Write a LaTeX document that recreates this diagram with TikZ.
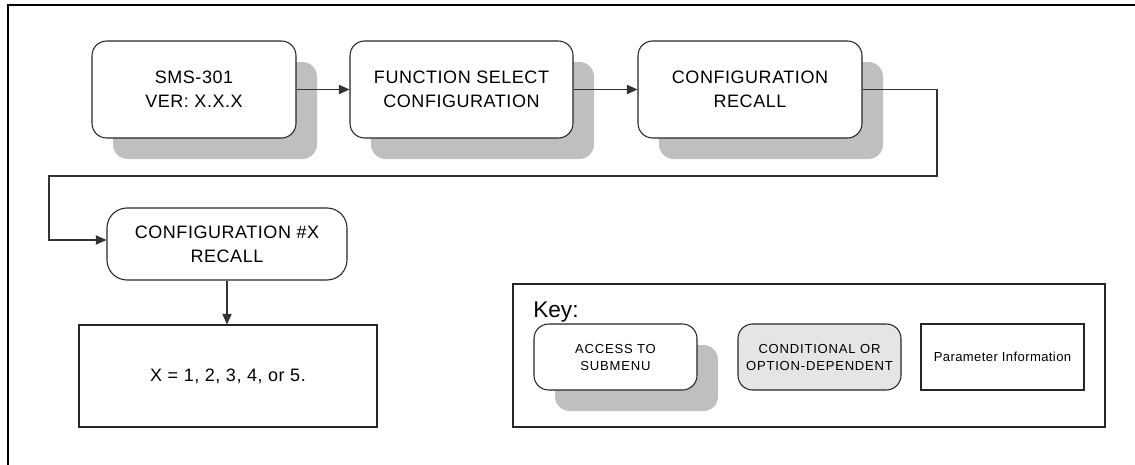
\documentclass[tikz,border=0pt]{standalone}
\usepackage{fontspec}
\setmainfont{Liberation Sans}
\newfontfamily\spacedfont[LetterSpace=3]{Liberation Sans}
\newfontfamily\widefont[LetterSpace=6]{Liberation Sans}
\usetikzlibrary{arrows.meta}
\begin{document}
\begin{tikzpicture}[x=0.75pt,y=-0.75pt,
  box/.style={draw=black!85, line width=0.8pt, fill=white, rounded corners=11pt, align=center, inner sep=0pt, font=\spacedfont\fontsize{13.5}{18}\selectfont},
  shadowbox/.style={fill=black!25, draw=none, rounded corners=11pt, inner sep=0pt},
  keybox/.style={draw=black!85, line width=0.8pt, fill=white, rounded corners=11pt, align=center, inner sep=0pt, font=\widefont\fontsize{9.8}{12.75}\selectfont, minimum width=122.25pt, minimum height=49.5pt},
  conn/.style={draw=black!80, line width=0.8pt},
  arr/.style={conn, -{Triangle[length=8pt,width=7pt]}},
]
\useasboundingbox (0,0) rectangle (1135,464);
\draw[line width=2pt] (8,465) -- (8,5) -- (1136,5);

% shadows
\node[shadowbox, minimum width=153pt, minimum height=72.75pt] (b1s) at (215,110.5) {};
\node[shadowbox, minimum width=167.25pt, minimum height=72.75pt] (b2s) at (482.5,110.5) {};
\node[shadowbox, minimum width=168pt, minimum height=72.75pt] (b3s) at (771,110.5) {};

% main boxes
\node[box, minimum width=153pt, minimum height=72.75pt] (b1) at (194,89.5) {SMS-301\\VER: X.X.X};
\node[box, minimum width=167.25pt, minimum height=72.75pt] (b2) at (461.5,89.5) {FUNCTION SELECT\\CONFIGURATION};
\node[box, minimum width=168pt, minimum height=72.75pt] (b3) at (750,89.5) {CONFIGURATION\\RECALL};
\node[box, rounded corners=15pt, minimum width=180pt, minimum height=54pt] (b4) at (227,244) {CONFIGURATION \#X\\RECALL};
\node[box, rounded corners=0pt, minimum width=223.5pt, minimum height=76.5pt] (b5) at (228,376) {X = 1, 2, 3, 4, or 5.};

% connectors
\draw[arr] (b1.east) -- (b2.west);
\draw[arr] (b2.east) -- (b3.west);
\coordinate (c1) at (937,89.5);
\coordinate (c2) at (937,176);
\coordinate (c3) at (49,176);
\coordinate (c4) at (49,240);
\draw[arr] (b3.east) -- (c1) -- (c2) -- (c3) -- (c4) -- (b4.west |- c4);
\draw[arr] (b4.south) -- (b4.south |- b5.north);

% key
\node[draw=black!85, line width=1.1pt, minimum width=444pt, minimum height=107.25pt, inner sep=0pt] (key) at (809,355.5) {};
\node[anchor=base west, inner sep=0pt, font=\fontsize{17}{20}\selectfont] (keytitle) at (533,317) {Key:};
\node[shadowbox, minimum width=122.25pt, minimum height=49.5pt] (k1s) at (636.5,378) {};
\node[keybox] (k1) at (615.5,357) {ACCESS TO\\SUBMENU};
\node[keybox, fill=black!10] (k2) at (819.5,357) {CONDITIONAL OR\\OPTION-DEPENDENT};
\node[keybox, rounded corners=0pt, font=\spacedfont\fontsize{9.8}{12.75}\selectfont] (k3) at (1002.5,357) {Parameter Information};
\end{tikzpicture}
\end{document}
